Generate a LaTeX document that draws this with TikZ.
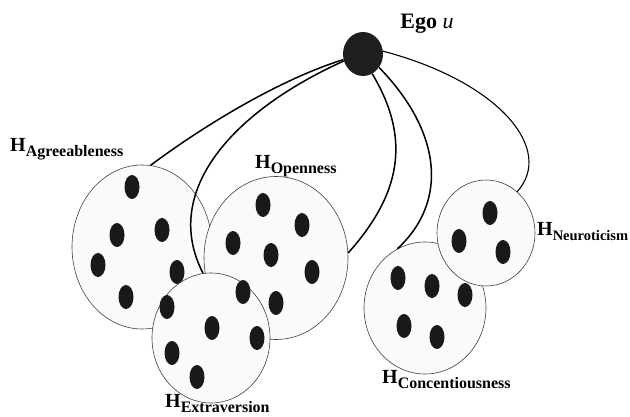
\documentclass[tikz,border=0pt]{standalone}
\usepackage{fontspec}
\setmainfont{Liberation Serif}
\usepackage{tikz}
\usetikzlibrary{shapes.geometric}
\newcommand{\hsub}[2][16]{H\raisebox{-5pt}{\fontsize{#1}{#1}\selectfont #2}}

\begin{document}
\begin{tikzpicture}[x=1pt, y=-1pt,
  group/.style={ellipse, draw=black!75, line width=0.6pt, fill=black!2, inner sep=0pt},
  member/.style={fill=black!90},
  egonode/.style={ellipse, fill=black!88, minimum width=40pt, minimum height=44pt, inner sep=0pt},
  tie/.style={line width=1.5pt, black},
  lab/.style={font=\fontsize{20}{22}\selectfont\bfseries, inner sep=0pt, text=black}
]
  \useasboundingbox (0,0) rectangle (630,417);

  % groups, back to front
  \node[group, minimum width=140pt, minimum height=164pt] (agr) at (142,247) {};
  \foreach \x/\y in {132/187, 117/235, 162/230, 98/265, 177/272, 126/297}
    \fill[member] (\x,\y) ellipse (7.5 and 12);
  \node[group, minimum width=144pt, minimum height=163pt] (open) at (276,258) {};
  \foreach \x/\y in {263/205, 302/225, 233/243, 271/255, 312/272, 276/303}
    \fill[member] (\x,\y) ellipse (7.5 and 12);
  \node[group, minimum width=118pt, minimum height=130pt] (extr) at (211,338) {};
  \foreach \x/\y in {243/292, 167/307, 212/328, 257/338, 172/353, 197/377}
    \fill[member] (\x,\y) ellipse (7.5 and 12);
  \node[group, minimum width=122pt, minimum height=132pt] (conc) at (425,308) {};
  \foreach \x/\y in {398/278, 432/286, 465/295, 404/326, 437/337}
    \fill[member] (\x,\y) ellipse (7.5 and 12);
  \node[group, minimum width=98pt, minimum height=106pt] (neur) at (486,233) {};
  \foreach \x/\y in {490/213, 459/241, 503/252}
    \fill[member] (\x,\y) ellipse (7.5 and 12);

  % ego and its ties
  \node[egonode] (ego) at (363,54) {};
  \draw[tie] (ego.196) .. controls (278,80) and (202,127) .. (agr.84);
  \draw[tie] (ego.200) .. controls (235,110) and (160,190) .. (extr.97);
  \draw[tie] (ego.-65) .. controls (412,140) and (400,195) .. (open.4);
  \draw[tie] (ego.-40) .. controls (440,130) and (450,200) .. (conc.115);
  \draw[tie, line width=1.1pt] (ego.8) .. controls (500,82) and (555,150) .. (neur.53);

  % labels
  \node[lab, font=\fontsize{22}{24}\selectfont\bfseries, anchor=base] (egolab) at (427,29) {Ego \textit{\mdseries u}};
  \node[lab, anchor=base west] (agrlab) at (10,152) {\hsub{Agreeableness}};
  \node[lab, anchor=base west] (openlab) at (255,169) {\hsub{Openness}};
  \node[lab, anchor=base west] (extrlab) at (165,407) {\hsub{Extraversion}};
  \node[lab, anchor=base west] (conclab) at (382,383) {\hsub{Concentiousness}};
  \node[lab, anchor=base west] (neurlab) at (537,236) {\hsub[14.5]{Neuroticism}};
\end{tikzpicture}
\end{document}
